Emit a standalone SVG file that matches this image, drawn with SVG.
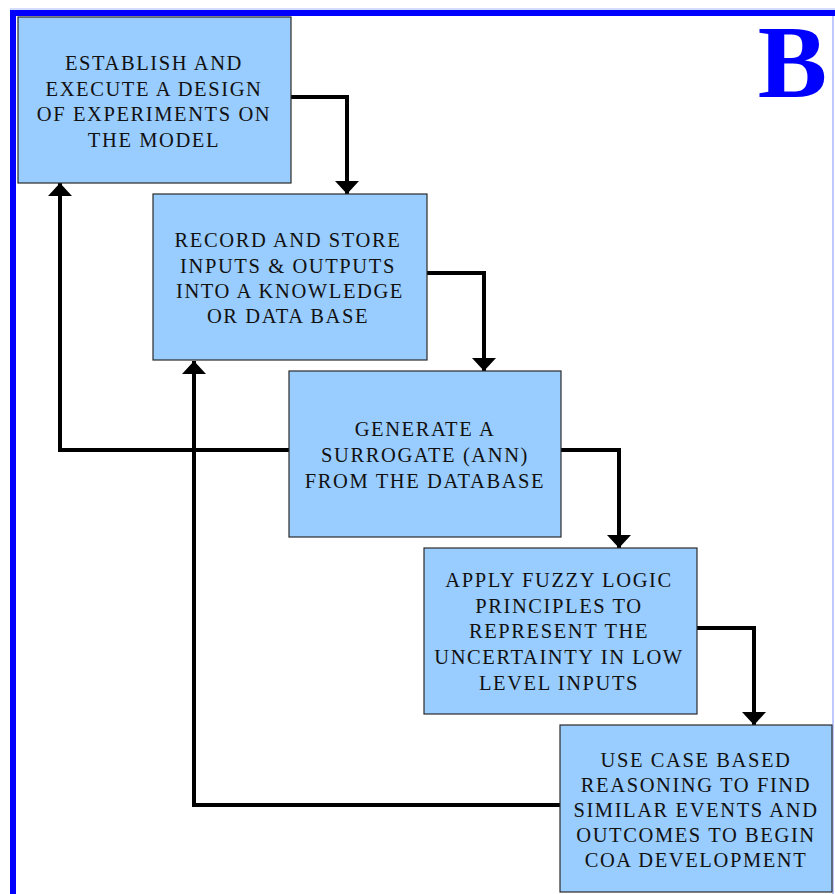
<svg xmlns="http://www.w3.org/2000/svg" width="835" height="894" viewBox="0 0 835 894">
  <defs>
    <style>
      .box { fill: #99ccff; stroke: #2a2a2a; stroke-width: 1.2; }
      .lbl { font-family: "Liberation Serif", "Times New Roman", serif; font-size: 20.5px; letter-spacing: 1.6px; fill: #111; text-anchor: middle; }
      .wire { fill: none; stroke: #000; stroke-width: 4; stroke-linejoin: miter; }
    </style>
    <!-- arrowhead drawn along +x so orient="auto" follows the path direction -->
    <marker id="head" viewBox="0 0 13 24" refX="13" refY="12" markerWidth="13" markerHeight="24" markerUnits="userSpaceOnUse" orient="auto">
      <path d="M0,0 L13,12 L0,24 Z" fill="#000"/>
    </marker>
  </defs>

  <rect width="835" height="894" fill="#fff"/>

  <!-- frame -->
  <line x1="833" y1="10" x2="833" y2="894" stroke="#a8b8ff" stroke-width="1.5"/>
  <line x1="10" y1="9" x2="835" y2="9" stroke="#a8b8ff" stroke-width="1"/>
  <rect x="10" y="10" width="825" height="6" fill="#0000ff"/>
  <rect x="10" y="10" width="6" height="884" fill="#0000ff"/>

  <text x="827" y="97" font-family="Liberation Serif, Times New Roman, serif" font-weight="bold" font-size="104" fill="#0000ff" text-anchor="end">B</text>

  <!-- connectors -->
  <g id="connectors">
    <path class="wire" d="M291,97 H347 V194" marker-end="url(#head)"/>
    <path class="wire" d="M427,273 H484 V371" marker-end="url(#head)"/>
    <path class="wire" d="M561,450 H619 V548" marker-end="url(#head)"/>
    <path class="wire" d="M697,628 H754 V725" marker-end="url(#head)"/>
    <path class="wire" d="M289,450 H60 V183" marker-end="url(#head)"/>
    <path class="wire" d="M560,805 H194 V361" marker-end="url(#head)"/>
  </g>

  <g id="step1">
    <rect class="box" x="18" y="17" width="273" height="166"/>
    <text class="lbl" x="154" y="70">ESTABLISH AND</text>
    <text class="lbl" x="154" y="96">EXECUTE A DESIGN</text>
    <text class="lbl" x="154" y="121">OF EXPERIMENTS ON</text>
    <text class="lbl" x="154" y="147">THE MODEL</text>
  </g>

  <g id="step2">
    <rect class="box" x="153" y="194" width="274" height="166"/>
    <text class="lbl" x="288" y="247">RECORD AND STORE</text>
    <text class="lbl" x="288" y="273">INPUTS &amp; OUTPUTS</text>
    <text class="lbl" x="290" y="298">INTO A KNOWLEDGE</text>
    <text class="lbl" x="288" y="323">OR DATA BASE</text>
  </g>

  <g id="step3">
    <rect class="box" x="289" y="371" width="272" height="166"/>
    <text class="lbl" x="425" y="436">GENERATE A</text>
    <text class="lbl" x="425" y="462">SURROGATE (ANN)</text>
    <text class="lbl" x="425" y="488">FROM THE DATABASE</text>
  </g>

  <g id="step4">
    <rect class="box" x="424" y="548" width="273" height="166"/>
    <text class="lbl" x="559" y="587">APPLY FUZZY LOGIC</text>
    <text class="lbl" x="559" y="613">PRINCIPLES TO</text>
    <text class="lbl" x="559" y="638">REPRESENT THE</text>
    <text class="lbl" x="559" y="664">UNCERTAINTY IN LOW</text>
    <text class="lbl" x="559" y="690">LEVEL INPUTS</text>
  </g>

  <g id="step5">
    <rect class="box" x="560" y="725" width="272" height="167"/>
    <text class="lbl" x="696" y="767">USE CASE BASED</text>
    <text class="lbl" x="696" y="792">REASONING TO FIND</text>
    <text class="lbl" x="696" y="817">SIMILAR EVENTS AND</text>
    <text class="lbl" x="696" y="842">OUTCOMES TO BEGIN</text>
    <text class="lbl" x="696" y="867">COA DEVELOPMENT</text>
  </g>
</svg>
